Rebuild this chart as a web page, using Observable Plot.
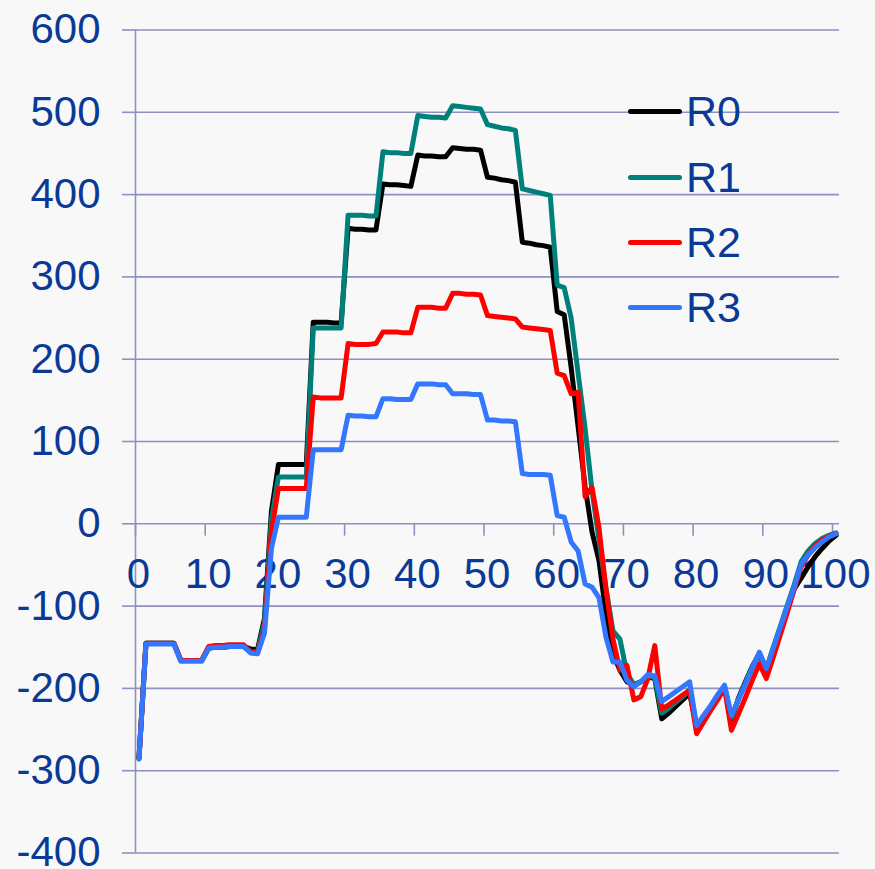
<!DOCTYPE html>
<html>
<head>
<meta charset="utf-8">
<script src="https://cdn.jsdelivr.net/npm/d3@7"></script>
<script src="https://cdn.jsdelivr.net/npm/@observablehq/plot@0.6"></script>
<style>
  body { margin: 0; background: #f8f8f8; }
  #wrap { position: relative; width: 875px; height: 869px; font-family: "Liberation Sans", Arial, sans-serif; }
  #legend { position: absolute; left: 628px; top: 79.3px; }
  .item { display: flex; align-items: center; height: 65.3px; }
  .swatch { width: 54px; height: 5px; border-radius: 3px; }
  .label { font-size: 43px; line-height: 1; color: #0a3a96; margin-left: 4px; }
</style>
</head>
<body>
<div id="wrap"><div id="legend"></div></div>
<script>
// x positions of the samples (0.5, 1.5, ... 100.5)
const xValues = d3.range(101).map(i => i + 0.5);

const seriesNames = ["R0", "R1", "R2", "R3"];
const seriesColors = ["#000000", "#00807a", "#ff0000", "#3377ff"];

const r0 = [-285,
  -145,-145,-145,-145,-145,
  -166,-166,-166,-166,
  -151,-150,-150,-149,-149,-149,
  -152,-153,
  -115, 15,
  72,72,72,72,72,
  245,245,245,244,244,
  359,358,358,357,357,
  413,412,412,411,410,
  448,447,447,446,446,
  457,456,455,455,454,
  421,420,418,417,415,
  342,341,339,338,336,
  258,254,190,118,45,-10,-45,-110,-158,-178,-192,
  -196,-192,-186,-188,-237,
  -230,-222,-214,-206,
  -247,
  -236,-223,-210,-198,
  -238,
  -212,-192,-173,-158,
  -178,
  -152,-128,-102,-79,-66,-52,-40,-30,-21,-14];

const r1 = [-285,
  -145,-145,-145,-145,-145,
  -166,-166,-166,-166,
  -151,-150,-150,-149,-149,-149,
  -155,-156,
  -120, 5,
  57,57,57,57,57,
  238,238,238,238,238,
  375,375,375,374,374,
  452,451,451,450,450,
  496,495,494,494,493,
  508,507,506,505,504,
  485,483,481,480,478,
  407,405,403,401,399,
  290,287,250,183,116,40,-20,-78,-130,-140,-182,
  -195,-192,-185,-187,-230,
  -224,-217,-210,-203,
  -246,
  -235,-222,-209,-197,
  -236,
  -213,-193,-174,-157,
  -177,
  -150,-125,-99,-74,-46,-33,-24,-18,-14,-11];

const r2 = [-285,
  -145,-145,-145,-145,-145,
  -166,-166,-166,-166,
  -149,-148,-148,-147,-147,-147,
  -156,-157,
  -128, -10,
  43,43,43,43,43,
  154,153,153,153,153,
  219,218,218,218,219,
  233,233,233,232,232,
  263,263,263,262,262,
  280,280,279,279,278,
  253,252,251,250,249,
  239,238,237,236,235,
  183,180,158,160,33,44,-5,-80,-140,-178,-172,
  -214,-210,-188,-148,-225,
  -220,-214,-208,-202,
  -255,
  -241,-227,-214,-200,
  -251,
  -231,-211,-190,-170,
  -188,
  -162,-135,-108,-80,-52,-38,-27,-20,-15,-12];

const r3 = [-286,
  -146,-146,-146,-146,-146,
  -167,-167,-167,-167,
  -151,-150,-150,-149,-149,-149,
  -157,-158,
  -133, -30,
  8,8,8,8,8,
  90,90,90,90,90,
  132,131,131,130,130,
  152,152,151,151,151,
  170,170,170,169,169,
  158,158,158,157,157,
  126,126,125,125,124,
  61,60,60,60,59,
  10,8,-22,-33,-73,-77,-90,-138,-168,-168,-190,
  -198,-192,-183,-185,-216,
  -210,-204,-198,-192,
  -245,
  -233,-221,-208,-196,
  -233,
  -214,-195,-175,-156,
  -176,
  -151,-126,-101,-77,-49,-38,-29,-22,-16,-12];

const xTicks = [0, 10, 20, 30, 40, 50, 60, 70, 80, 90, 100];
const yTicks = [-400, -300, -200, -100, 0, 100, 200, 300, 400, 500, 600];

const allSeries = [r0, r1, r2, r3];
const data = seriesNames.flatMap((name, k) =>
  allSeries[k].map((v, i) => ({ series: name, x: xValues[i], y: v })));

const gridColor = "#8d91bf";
const textColor = "#0a3a96";

const chart = Plot.plot({
  width: 875,
  height: 869,
  marginLeft: 135,
  marginRight: 36,
  marginTop: 29.5,
  marginBottom: 16.5,
  x: { domain: [0, 101], axis: null },
  y: { domain: [-400, 600], axis: null },
  color: { domain: seriesNames, range: seriesColors },
  style: { background: "transparent", fontFamily: "'Liberation Sans', Arial, sans-serif", overflow: "visible" },
  marks: [
    Plot.gridY(yTicks, { stroke: gridColor, strokeOpacity: 1, strokeWidth: 1.6 }),
    Plot.axisY(yTicks, {
      label: null,
      tickSize: 13, tickPadding: 22, tickFormat: d => String(d),
      stroke: gridColor, strokeWidth: 1.6, fill: textColor, fontSize: 42
    }),
    Plot.ruleX([0], { stroke: gridColor, strokeWidth: 1.6 }),
    Plot.ruleX(xTicks, { x: d => d, y1: 0, y2: -15, stroke: gridColor, strokeWidth: 1.6 }),
    Plot.text(xTicks, { x: d => d, y: 0, text: d => String(d), dy: 51, dx: 3, fontSize: 42, fill: textColor }),
    Plot.line(data, {
      x: "x", y: "y", z: "series", stroke: "series",
      strokeWidth: 5, strokeLinejoin: "round", strokeLinecap: "round"
    })
  ]
});

document.getElementById("wrap").prepend(chart);

const legend = d3.select("#legend");
seriesNames.forEach((name, k) => {
  const item = legend.append("div").attr("class", "item");
  item.append("div").attr("class", "swatch").style("background", seriesColors[k]);
  item.append("div").attr("class", "label").text(name);
});
</script>
</body>
</html>
